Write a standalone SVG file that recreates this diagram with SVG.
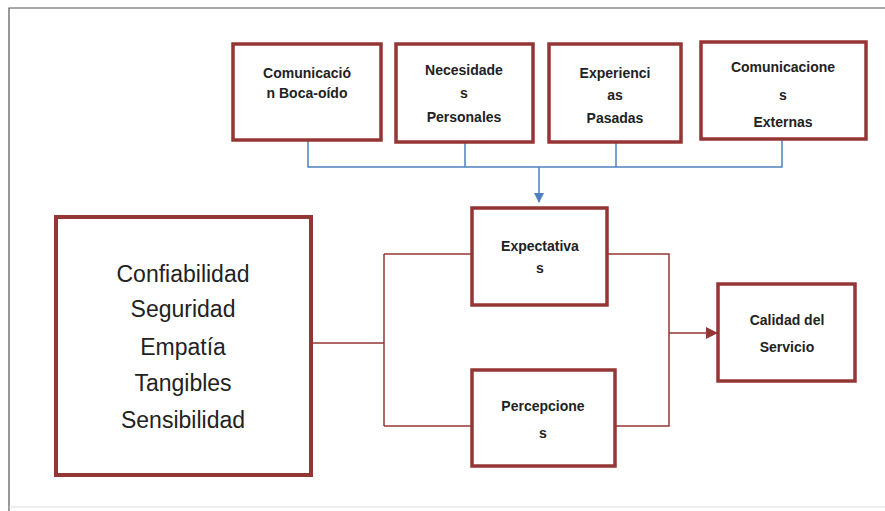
<svg xmlns="http://www.w3.org/2000/svg" width="885" height="511" viewBox="0 0 885 511">
<style>
.box{fill:#ffffff;stroke:#943634;stroke-width:3.5}
.big{fill:#ffffff;stroke:#943634;stroke-width:4}
.lb{font-family:"Liberation Sans",Arial,sans-serif;font-weight:bold;font-size:14px;fill:#222;text-anchor:middle}
.lr{font-family:"Liberation Sans",Arial,sans-serif;font-size:23px;fill:#222;text-anchor:middle}
.cb{fill:none;stroke:#4f81bd;stroke-width:1.5}
.cr{fill:none;stroke:#953735;stroke-width:1.5}
</style>
<defs>
<marker id="ab" markerWidth="10" markerHeight="10" refX="9" refY="5" orient="auto" markerUnits="userSpaceOnUse">
<path d="M0,0 L10,5 L0,10 Z" fill="#4f81bd"/>
</marker>
<marker id="ar" markerWidth="12" markerHeight="12" refX="11" refY="6" orient="auto" markerUnits="userSpaceOnUse">
<path d="M0,0 L12,6 L0,12 Z" fill="#953735"/>
</marker>
</defs>
<rect x="0" y="0" width="885" height="511" fill="#ffffff"/>
<g id="frame">
<path d="M9,511 V8 H885" fill="none" stroke="#555" stroke-width="1.2"/>
<path d="M9,507 H885" fill="none" stroke="#ddd" stroke-width="1"/>
</g>
<g id="connectors">
<path class="cb" d="M308,141 V167 H782 V140 M465,143 V167 M616,143 V167"/>
<path class="cb" d="M539,167 V202" marker-end="url(#ab)"/>
<path class="cr" d="M312,343 H384 M384,254 V426 M384,254 H471 M384,426 H471"/>
<path class="cr" d="M607,254 H669 V426 H615 M669,333 H717" marker-end="url(#ar)"/>
</g>
<g id="n1">
<rect class="box" x="233" y="44" width="148" height="96"/>
<text class="lb" x="307" y="78">Comunicació</text>
<text class="lb" x="307" y="98">n Boca-oído</text>
</g>
<g id="n2">
<rect class="box" x="396" y="44" width="137" height="98"/>
<text class="lb" x="464" y="75">Necesidade</text>
<text class="lb" x="464" y="98">s</text>
<text class="lb" x="464" y="122">Personales</text>
</g>
<g id="n3">
<rect class="box" x="549" y="44" width="132" height="98"/>
<text class="lb" x="615" y="78">Experienci</text>
<text class="lb" x="615" y="100">as</text>
<text class="lb" x="615" y="123">Pasadas</text>
</g>
<g id="n4">
<rect class="box" x="701" y="42" width="165" height="97"/>
<text class="lb" x="783" y="72">Comunicacione</text>
<text class="lb" x="783" y="100">s</text>
<text class="lb" x="783" y="127">Externas</text>
</g>
<g id="n5">
<rect class="big" x="56" y="217" width="255" height="258"/>
<text class="lr" x="183" y="282">Confiabilidad</text>
<text class="lr" x="183" y="317">Seguridad</text>
<text class="lr" x="183" y="355">Empatía</text>
<text class="lr" x="183" y="391">Tangibles</text>
<text class="lr" x="183" y="428">Sensibilidad</text>
</g>
<g id="n6">
<rect class="box" x="472" y="208" width="135" height="97"/>
<text class="lb" x="540" y="251">Expectativa</text>
<text class="lb" x="540" y="273">s</text>
</g>
<g id="n7">
<rect class="box" x="472" y="370" width="143" height="96"/>
<text class="lb" x="543" y="411">Percepcione</text>
<text class="lb" x="543" y="438">s</text>
</g>
<g id="n8">
<rect class="box" x="718" y="284" width="137" height="97"/>
<text class="lb" x="787" y="325">Calidad del</text>
<text class="lb" x="787" y="352">Servicio</text>
</g>
</svg>
